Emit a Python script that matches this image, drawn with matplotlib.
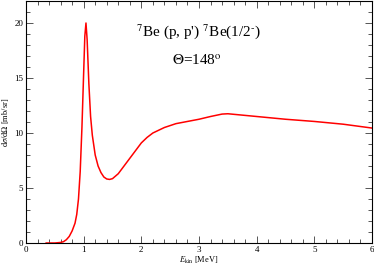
import matplotlib
matplotlib.use("Agg")
import matplotlib.pyplot as plt
from matplotlib.ticker import MultipleLocator

plt.rcParams['font.family'] = ['Liberation Serif', 'DejaVu Serif']
plt.rcParams['mathtext.fontset'] = 'stix'

# cross section
energy = [0.35, 0.5, 0.6, 0.65, 0.7, 0.75, 0.8, 0.85, 0.88, 0.91, 0.94, 0.97,
          1.0, 1.02, 1.04, 1.06, 1.09, 1.12, 1.15, 1.2, 1.25, 1.3, 1.35, 1.4,
          1.45, 1.5, 1.6, 1.7, 1.8, 1.9, 2.0, 2.1, 2.2, 2.4, 2.6, 2.8, 3.0,
          3.2, 3.4, 3.5, 3.7, 4.0, 4.5, 5.0, 5.5, 6.0]
xsec = [0.0, 0.0, 0.05, 0.12, 0.3, 0.6, 1.1, 1.8, 2.6, 4.0, 6.5, 10.5,
        15.5, 18.8, 20.0, 18.5, 14.5, 11.5, 9.8, 8.0, 7.0, 6.4, 6.0, 5.82,
        5.78, 5.85, 6.3, 7.0, 7.7, 8.4, 9.1, 9.6, 10.0, 10.5, 10.85, 11.05, 11.25,
        11.5, 11.72, 11.75, 11.65, 11.5, 11.25, 11.05, 10.8, 10.45]

fig = plt.figure(figsize=(3.74, 2.68), dpi=100)
ax = fig.add_axes([26/374, 25/268, 346/374, 242/268])

ax.plot(energy, xsec, color='red', lw=1.1)

ax.set_xlim(0, 6)
ax.set_ylim(0, 22)
ax.xaxis.set_major_locator(MultipleLocator(1))
ax.xaxis.set_minor_locator(MultipleLocator(0.2))
ax.yaxis.set_major_locator(MultipleLocator(5))
ax.yaxis.set_minor_locator(MultipleLocator(1))
ax.tick_params(which='both', direction='in', top=True, right=True,
               labelsize=6.5, color='#555555', width=0.7, pad=2)
ax.tick_params(which='major', length=5)
ax.tick_params(which='minor', length=2.8)
for s in ax.spines.values():
    s.set_linewidth(0.8)

ax.set_xlabel(r'$E_{\rm kin}$ [MeV]', fontsize=6, labelpad=1)
ax.set_ylabel(r'd$\sigma$/d$\Omega$ [mb/sr]', fontsize=6, labelpad=2)

ax.text(3.0, 19.2, r"$^7$Be (p, p') $^7$Be(1/2$^{\text{-}}$)", fontsize=11, ha='center', va='center')
ax.text(2.97, 16.6, r"$\Theta$=148$^{\rm o}$", fontsize=11, ha='center', va='center')

fig.savefig('out.png', dpi=100)
